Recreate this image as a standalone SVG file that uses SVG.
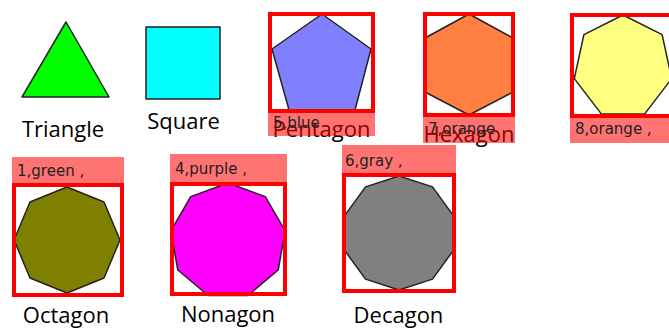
<svg xmlns="http://www.w3.org/2000/svg" width="669" height="329" viewBox="0 0 669 329">
<style>
.shape{stroke:#222;stroke-width:1.5;stroke-linejoin:round}
.box{fill:none;stroke:#ff0000;stroke-width:4}
.bar{fill:#ff0000;fill-opacity:0.55}
.lbl{font-family:"Open Sans","Liberation Sans",sans-serif;font-size:22px;fill:#000;text-anchor:middle}
.tag{font-family:"DejaVu Sans","Liberation Sans",sans-serif;font-size:15px;fill:#222}
</style>
<rect width="669" height="329" fill="#fff"/>
<g id="triangle">
<polygon class="shape" points="66,22 109,97 22,97" fill="#00ff00"/>
<text class="lbl" x="63" y="137">Triangle</text>
</g>
<g id="square">
<rect class="shape" x="146" y="27" width="74" height="72" fill="#00ffff"/>
<text class="lbl" x="183.5" y="129">Square</text>
</g>
<g id="pentagon">
<polygon class="shape" points="322,14 371,49 355,110 289,110 272,49" fill="#8080ff"/>
<rect class="box" x="270" y="14" width="103" height="97"/>
<text class="lbl" x="321.5" y="137">Pentagon</text>
<rect class="bar" x="268" y="113" width="107" height="23"/>
<text class="tag" x="273" y="128">5,blue</text>
</g>
<g id="hexagon">
<polygon class="shape" points="469,14 513,38 513,92 469,115 425,92 425,38" fill="#ff8040"/>
<rect class="box" x="425" y="14" width="88" height="101"/>
<text class="lbl" x="469" y="142">Hexagon</text>
<rect class="bar" x="423" y="117" width="92" height="26"/>
<text class="tag" x="428" y="134">7,orange</text>
</g>
<g id="heptagon">
<polygon class="shape" points="623,15 662.1,34.6 671.7,78.6 644.7,113.9 601.3,113.9 574.3,78.6 583.9,34.6" fill="#ffff80"/>
<rect class="box" x="572" y="15" width="102" height="101"/>
<rect class="bar" x="570" y="118" width="106" height="25"/>
<text class="tag" x="575" y="134">8,orange ,</text>
</g>
<g id="octagon">
<polygon class="shape" points="67,187 104,202 120,240 104,278 67,293 30,278 14,240 30,202" fill="#808000"/>
<rect class="box" x="14" y="185" width="108" height="110"/>
<rect class="bar" x="12" y="157" width="112" height="26"/>
<text class="tag" x="17" y="176">1,green ,</text>
<text class="lbl" x="66" y="323">Octagon</text>
</g>
<g id="nonagon">
<polygon class="shape" points="228,183 190.7,196.6 170.9,230.9 177.8,270 208.2,295.5 247.8,295.5 278.2,270 285.1,230.9 265.3,196.6" fill="#ff00ff"/>
<rect class="box" x="172" y="184" width="113" height="110"/>
<rect class="bar" x="170" y="154" width="117" height="28"/>
<text class="tag" x="175" y="174">4,purple ,</text>
<text class="lbl" x="228" y="322">Nonagon</text>
</g>
<g id="decagon">
<polygon class="shape" points="399,176 432.5,186.9 453.2,215.4 453.2,250.6 432.5,279.1 399,290 365.5,279.1 344.8,250.6 344.8,215.4 365.5,186.9" fill="#808080"/>
<rect class="box" x="344" y="175" width="110" height="116"/>
<rect class="bar" x="342" y="145" width="114" height="28"/>
<text class="tag" x="345" y="166">6,gray ,</text>
<text class="lbl" x="398.5" y="323">Decagon</text>
</g>
</svg>
